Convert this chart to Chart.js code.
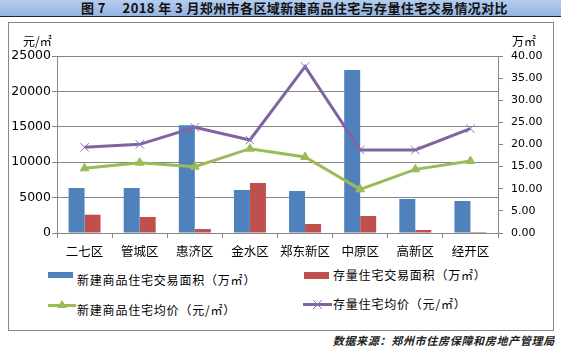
<!DOCTYPE html>
<html>
<head>
<meta charset="utf-8">
<script src="https://cdn.jsdelivr.net/npm/chart.js@4"></script>
<style>
  body { margin: 0; width: 561px; height: 349px; position: relative; background: #fff; overflow: hidden;
         font-family: "Noto Sans CJK SC", sans-serif; color: #000; }
  #title { position: absolute; left: 0; top: 0; width: 561px; height: 16px;
           background: linear-gradient(#b5ccee, #94b4df); border-bottom: 1px solid #222; }
  #title span { position: absolute; left: 81px; top: 0; line-height: 16px; font-size: 13px; letter-spacing: 0.4px;
                font-weight: bold; color: #111; white-space: nowrap; }
  #box { position: absolute; left: 8px; top: 22px; width: 544px; height: 307px; border: 1px solid #888; }
  #wrap { position: absolute; left: 8px; top: 22px; width: 545px; height: 238px; }
  .lg { position: absolute; font-size: 12px; letter-spacing: 0.8px; line-height: 14px; white-space: nowrap; }
  .sw { position: absolute; }
  #src { position: absolute; right: 6px; top: 333px; font-size: 11px; line-height: 14px; letter-spacing: 0.7px;
         font-style: italic; font-weight: bold; color: #222; white-space: nowrap; }
</style>
</head>
<body>
<div id="title"><span>图 7&nbsp;&nbsp;&nbsp;&nbsp;&nbsp;2018 年 3 月郑州市各区域新建商品住宅与存量住宅交易情况对比</span></div>
<div id="box"></div>
<div id="wrap"><canvas id="myChart"></canvas></div>

<div class="sw" style="left:48px;top:272px;width:25px;height:6px;background:#4f81bd"></div>
<div class="lg" style="left:77px;top:273px">新建商品住宅交易面积（万㎡）</div>
<div class="sw" style="left:304px;top:272px;width:25px;height:7px;background:#c0504d"></div>
<div class="lg" style="left:333px;top:268px">存量住宅交易面积（万㎡）</div>
<svg class="sw" style="left:48px;top:299px" width="28" height="12">
  <line x1="0" y1="6.5" x2="28" y2="6.5" stroke="#9bbb59" stroke-width="3"/>
  <polygon points="14,1 19,9 9,9" fill="#9bbb59"/>
</svg>
<div class="lg" style="left:77px;top:303px">新建商品住宅均价（元/㎡）</div>
<svg class="sw" style="left:303px;top:298px" width="29" height="12">
  <line x1="0" y1="6.5" x2="29" y2="6.5" stroke="#8064a2" stroke-width="3"/>
  <line x1="10" y1="2" x2="19" y2="11" stroke="#8a70c0" stroke-width="1"/>
  <line x1="19" y1="2" x2="10" y2="11" stroke="#8a70c0" stroke-width="1"/>
</svg>
<div class="lg" style="left:333px;top:297px">存量住宅均价（元/㎡）</div>

<div id="src">数据来源：郑州市住房保障和房地产管理局</div>

<script>
// 区域
let districts = ['二七区', '管城区', '惠济区', '金水区', '郑东新区', '中原区', '高新区', '经开区'];

// 交易面积（万㎡）
let newArea    = [10.17, 10.17, 24.33,  9.72,  9.49, 36.84, 7.68,  7.23];
let resaleArea = [ 4.14,  3.62,  0.90, 11.30,  2.03,  3.84, 0.68,  0.23];

// 均价（元/㎡）
let newPrice    = [ 9134,  9934,  9369, 11911, 10734,  6168,  8992, 10169];
let resalePrice = [12100, 12524, 14925, 13136, 23493, 11723, 11723, 14736];

let gridColor = '#868686';

// 坐标轴上方的单位
let axisTitles = {
    id: 'axisTitles',
    afterDraw(chart) {
        let ctx = chart.ctx;
        let area = chart.chartArea;
        ctx.save();
        ctx.font = '12px "Noto Sans CJK SC"';
        ctx.fillStyle = '#000';
        ctx.textBaseline = 'middle';
        ctx.textAlign = 'left';
        ctx.fillText('元/㎡', 15, area.top - 15);
        ctx.fillText('万㎡', chart.scales.y2.left + 14, area.top - 15);
        ctx.restore();
    }
};

let ctx = document.getElementById('myChart').getContext('2d');
let myChart = new Chart(ctx, {
    type: 'bar',
    data: {
        labels: districts,
        datasets: [
            {
                type: 'line',
                label: '新建商品住宅均价（元/㎡）',
                data: newPrice,
                yAxisID: 'y',
                borderColor: '#9bbb59',
                backgroundColor: '#9bbb59',
                borderWidth: 3,
                pointStyle: 'triangle',
                pointRadius: 5,
                pointBorderWidth: 1,
                tension: 0,
                order: 0
            },
            {
                type: 'line',
                label: '存量住宅均价（元/㎡）',
                data: resalePrice,
                yAxisID: 'y',
                borderColor: '#8064a2',
                backgroundColor: '#8064a2',
                borderWidth: 3,
                pointStyle: 'crossRot',
                pointRadius: 6,
                pointBorderWidth: 1,
                pointBorderColor: '#8a70c0',
                tension: 0,
                order: 0
            },
            {
                label: '新建商品住宅交易面积（万㎡）',
                data: newArea,
                yAxisID: 'y2',
                backgroundColor: '#4f81bd',
                order: 1
            },
            {
                label: '存量住宅交易面积（万㎡）',
                data: resaleArea,
                yAxisID: 'y2',
                backgroundColor: '#c0504d',
                order: 1
            }
        ]
    },
    options: {
        responsive: true,
        maintainAspectRatio: false,
        animation: false,
        devicePixelRatio: 1,
        layout: { padding: { top: 34, left: 0, right: 0, bottom: 0 } },
        datasets: { bar: { categoryPercentage: 0.58, barPercentage: 1 } },
        plugins: { legend: { display: false }, tooltip: { enabled: false } },
        scales: {
            x: {
                offset: true,
                grid: { offset: true, drawOnChartArea: false, drawTicks: true, tickLength: 5, color: gridColor },
                border: { color: gridColor },
                ticks: {
                    color: '#000',
                    padding: 6,
                    autoSkip: false,
                    maxRotation: 0,
                    minRotation: 0,
                    font: { family: 'Noto Sans CJK SC', size: 12.5 }
                },
                afterFit(scale) { scale.height = 27; }
            },
            y: {
                position: 'left',
                min: 0,
                max: 25000,
                ticks: {
                    stepSize: 5000,
                    color: '#000',
                    padding: 1,
                    font: { family: 'DejaVu Sans', size: 12.5 },
                    callback: v => String(v)
                },
                grid: { color: gridColor, tickLength: 5 },
                border: { color: gridColor },
                afterFit(scale) { scale.width = 49; }
            },
            y2: {
                position: 'right',
                min: 0,
                max: 40,
                ticks: {
                    stepSize: 5,
                    color: '#000',
                    padding: 8,
                    font: { family: 'DejaVu Sans', size: 11 },
                    callback: v => v.toFixed(2)
                },
                grid: { drawOnChartArea: false, color: gridColor, tickLength: 5 },
                border: { color: gridColor },
                afterFit(scale) { scale.width = 55; }
            }
        }
    },
    plugins: [axisTitles]
});
</script>
</body>
</html>
